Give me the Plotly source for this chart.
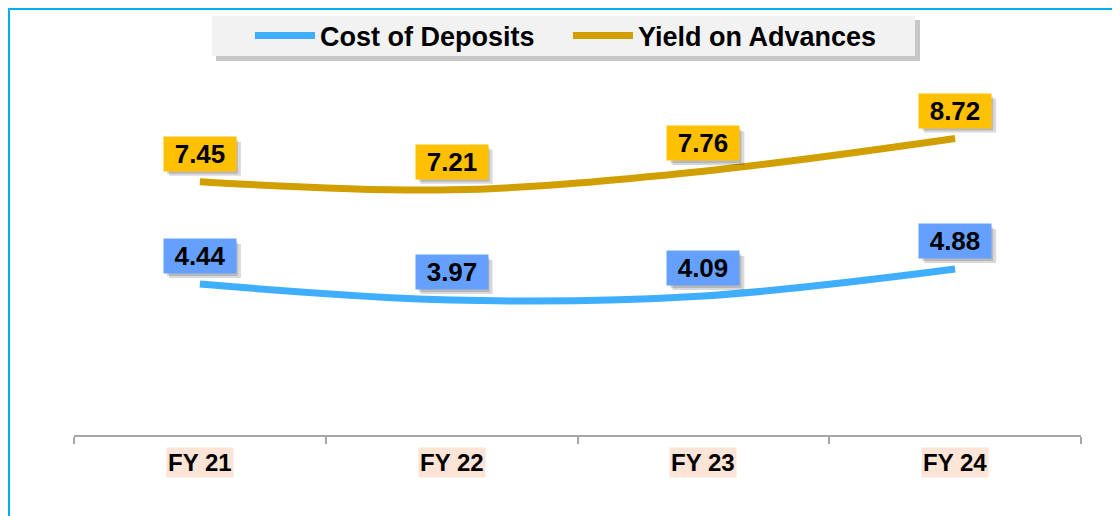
import plotly.graph_objects as go

categories = ["FY 21", "FY 22", "FY 23", "FY 24"]
cost_of_deposits = [4.44, 3.97, 4.09, 4.88]
yield_on_advances = [7.45, 7.21, 7.76, 8.72]

FONT = "Liberation Sans, Arial, sans-serif"
COST_LINE = "#3FAEFF"
COST_LABEL = "#66A0FF"
YIELD_LINE = "#D1A000"
YIELD_LABEL = "#FFC000"

OFF = 8  # page body margin
W, H = 1120 - OFF, 516 - OFF
ML, MR, MT, MB = 74 - OFF, 39, 27 - OFF, 81
PW, PH = W - ML - MR, H - MT - MB

def px_x(px):
    return (px - OFF - ML) / PW

def px_y(py):
    return (H - MB - (py - OFF)) / PH

fig = go.Figure()
fig.add_trace(go.Scatter(x=categories, y=cost_of_deposits, name="Cost of Deposits",
                         mode="lines", line=dict(color=COST_LINE, width=7, shape="spline", smoothing=1)))
fig.add_trace(go.Scatter(x=categories, y=yield_on_advances, name="Yield on Advances",
                         mode="lines", line=dict(color=YIELD_LINE, width=7, shape="spline", smoothing=1)))

shapes = []
annotations = []

# outer light-blue frame
shapes.append(dict(type="rect", xref="paper", yref="paper",
                   x0=px_x(9), x1=px_x(1140), y0=px_y(540), y1=px_y(9),
                   line=dict(color="#00B0F0", width=2), fillcolor="rgba(0,0,0,0)", layer="below"))

# legend box with shadow
shapes.append(dict(type="rect", xref="paper", yref="paper",
                   x0=px_x(216), x1=px_x(920), y0=px_y(61), y1=px_y(20),
                   line=dict(width=0), fillcolor="rgba(0,0,0,0.22)", layer="below"))
shapes.append(dict(type="rect", xref="paper", yref="paper",
                   x0=px_x(212), x1=px_x(915), y0=px_y(56), y1=px_y(16),
                   line=dict(width=0), fillcolor="#F2F2F2", layer="below"))

def add_label(series, bg):
    for i, v in enumerate(series):
        # soft shadow
        shapes.append(dict(type="rect", xref="x", yref="y", xsizemode="pixel", ysizemode="pixel",
                           xanchor=i, yanchor=v, x0=-31, x1=41, y0=6, y1=40,
                           line=dict(width=0), fillcolor="rgba(0,0,0,0.15)", layer="above"))
        shapes.append(dict(type="rect", xref="x", yref="y", xsizemode="pixel", ysizemode="pixel",
                           xanchor=i, yanchor=v, x0=-33, x1=38, y0=8, y1=42,
                           line=dict(width=0), fillcolor="rgba(0,0,0,0.15)", layer="above"))
        annotations.append(dict(x=categories[i], y=v, xref="x", yref="y", text=f"{v:.2f}",
                                showarrow=False, yshift=28, bgcolor=bg, borderpad=3, width=66, height=28,
                                font=dict(family=FONT, size=26, color="#000000", weight="bold")))

add_label(yield_on_advances, YIELD_LABEL)
add_label(cost_of_deposits, COST_LABEL)

# category labels with light background
for c in categories:
    annotations.append(dict(x=c, y=px_y(462), xref="x", yref="paper", text=c, showarrow=False,
                            yanchor="middle", bgcolor="#FCE4D6", borderpad=1,
                            font=dict(family=FONT, size=24, color="#000000", weight="bold")))

fig.update_layout(
    width=W, height=H,
    margin=dict(l=ML, r=MR, t=MT, b=MB, autoexpand=False),
    paper_bgcolor="white", plot_bgcolor="white",
    showlegend=True,
    legend=dict(orientation="h", x=px_x(250), xanchor="left", y=px_y(36), yanchor="middle",
                bgcolor="rgba(0,0,0,0)", font=dict(family=FONT, size=27, color="#000000", weight="bold"),
                itemwidth=60, entrywidth=243, traceorder="normal"),
    xaxis=dict(type="category", range=[-0.5, 3.5], showline=True, linecolor="#A6A6A6", linewidth=2,
               ticks="outside", tickson="boundaries", ticklen=7, tickcolor="#A6A6A6", tickwidth=2,
               showticklabels=False, showgrid=False, zeroline=False, fixedrange=True),
    yaxis=dict(range=[0, 12], visible=False, showgrid=False, zeroline=False, fixedrange=True),
    shapes=shapes,
    annotations=annotations,
)

fig.write_html("out.html")
